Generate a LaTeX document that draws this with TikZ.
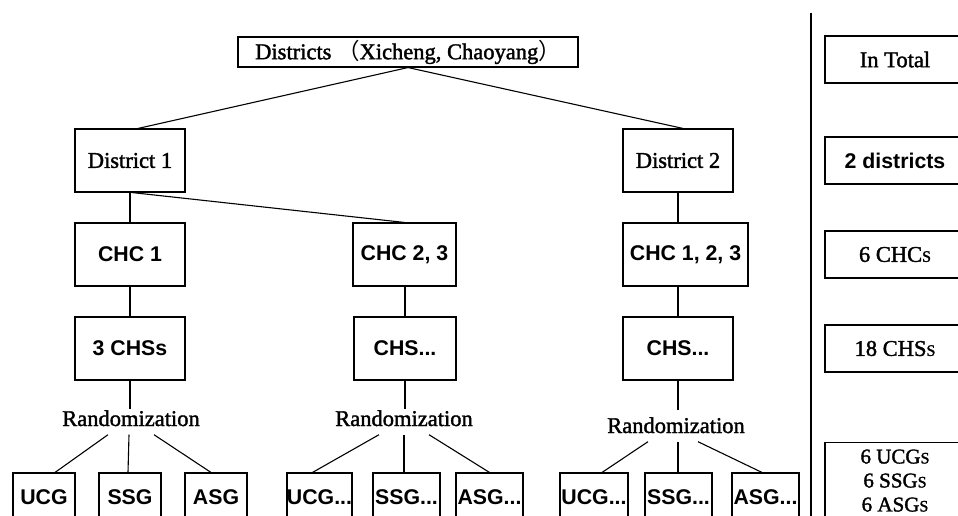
\documentclass[tikz,border=0pt]{standalone}
\usepackage{fontspec}
\setmainfont{Liberation Serif}
\setsansfont{Liberation Sans}
\newfontfamily\serheavy{Liberation Serif}[FakeBold=1.6]
\newfontfamily\cjk{Noto Sans CJK SC}
\newcommand\smS{{\fontsize{16}{16}\selectfont S}}
\tikzset{
  box/.style={draw, line width=1.1pt, inner sep=0pt, align=center},
  serif/.style={font=\serheavy\fontsize{22.5}{26}\selectfont},
  sans/.style={font=\sffamily\bfseries\fontsize{21.3}{26}\selectfont},
  conn/.style={line width=1.1pt},
  randtxt/.style={serif, inner sep=1.5pt, text depth=7pt},
}
\begin{document}
\begin{tikzpicture}[x=1pt,y=-1pt]
\useasboundingbox (0,0) rectangle (958,516);
\clip (0,0) rectangle (958,516);
\fill[white] (0,0) rectangle (958,516);

% top
\node[box,serif,minimum width=340,minimum height=30] (top) at (408,52) {Districts {\cjk （}Xicheng, Chaoyang{\cjk ）}};
\node[box,serif,minimum width=110,minimum height=63] (d1) at (130,160.5) {District 1};
\node[box,serif,minimum width=110,minimum height=63] (d2) at (678,160.5) {District 2};

\node[box,sans,minimum width=110,minimum height=63] (chc1) at (130,254.5) {CHC 1};
\node[box,sans,minimum width=103,minimum height=63] (chc23) at (404.5,254.5) {CHC 2, 3};
\node[box,sans,minimum width=125,minimum height=63] (chc123) at (685.5,254.5) {CHC 1, 2, 3};

\node[box,sans,minimum width=110,minimum height=63] (chs1) at (130,348.5) {3 CHSs};
\node[box,sans,minimum width=102,minimum height=63] (chs2) at (405,348.5) {CHS...};
\node[box,sans,minimum width=110,minimum height=63] (chs3) at (678,348.5) {CHS...};

\node[randtxt,anchor=base] (r1) at (131,426) {Randomization};
\node[randtxt,anchor=base] (r2) at (404,426) {Randomization};
\node[randtxt,anchor=base] (r3) at (676,433) {Randomization};

% leaves
\node[box,sans,minimum width=62,minimum height=48] (u1) at (44,497) {UCG};
\node[box,sans,minimum width=62,minimum height=48] (s1) at (130,497) {SSG};
\node[box,sans,minimum width=62,minimum height=48] (a1) at (216,497) {ASG};
\node[box,sans,minimum width=65,minimum height=48] (u2) at (319.5,497) {UCG...};
\node[box,sans,minimum width=67,minimum height=48] (s2) at (406.5,497) {SSG...};
\node[box,sans,minimum width=67,minimum height=48] (a2) at (489.5,497) {ASG...};
\node[box,sans,minimum width=68,minimum height=48] (u3) at (594,497) {UCG...};
\node[box,sans,minimum width=67,minimum height=48] (s3) at (678.5,497) {SSG...};
\node[box,sans,minimum width=67,minimum height=48] (a3) at (765.5,497) {ASG...};

% right column
\coordinate (septop) at (811,13);
\coordinate (sepbot) at (811,516);
\draw[conn] (septop) -- (sepbot);
\node[box,serif,minimum width=140,minimum height=47] (tot) at (895,59.5) {In Total};
\node[box,sans,minimum width=140,minimum height=47] (dist) at (895,160.5) {2 districts};
\node[box,serif,minimum width=140,minimum height=47] (chcs) at (895,254.5) {6 CHC\smS};
\node[box,serif,minimum width=140,minimum height=47] (chss) at (895,348.5) {18 CHS\smS};
\node[box,font=\serheavy\fontsize{21}{24}\selectfont,minimum width=140,inner ysep=7pt,anchor=north] (grp) at (895,442) {6 UCG\smS\\6 SSG\smS\\6 ASG\smS};

% connectors
\draw[conn] (top.south) -- ([xshift=8pt]d1.north);
\draw[conn] (top.south) -- ([xshift=5pt]d2.north);
\draw[conn] (d1.south) -- (chc1.north);
\draw[conn] ([xshift=2pt]d1.south) -- (chc23.north);
\draw[conn] (d2.south) -- (d2.south |- chc123.north);
\draw[conn] (chc1.south) -- (chs1.north);
\draw[conn] (chc23.south -| chs2.north) -- (chs2.north);
\draw[conn] (chs3.north |- chc123.south) -- (chs3.north);
\draw[conn] (chs1.south) -- (chs1.south |- r1.north);
\draw[conn] (chs2.south) -- (chs2.south |- r2.north);
\draw[conn] (chs3.south) -- ([yshift=6pt]chs3.south |- r3.north);

\draw[conn] ([xshift=-23pt]r1.south) -- ([xshift=11pt]u1.north);
\draw[conn] ([xshift=-2pt]r1.south) -- ([xshift=-2pt]s1.north);
\draw[conn] ([xshift=23pt]r1.south) -- ([xshift=-5pt]a1.north);
\draw[conn] ([xshift=-25pt]r2.south) -- ([xshift=-7pt]u2.north);
\draw[conn] (r2.south) -- (r2.south |- s2.north);
\draw[conn] ([xshift=25pt]r2.south) -- (a2.north);
\draw[conn] ([xshift=-28pt]r3.south) -- ([xshift=8pt]u3.north);
\draw[conn] ([xshift=2pt]r3.south) -- ([xshift=-0.5pt]s3.north);
\draw[conn] ([xshift=22pt]r3.south) -- ([xshift=-3.5pt]a3.north);
\end{tikzpicture}
\end{document}
